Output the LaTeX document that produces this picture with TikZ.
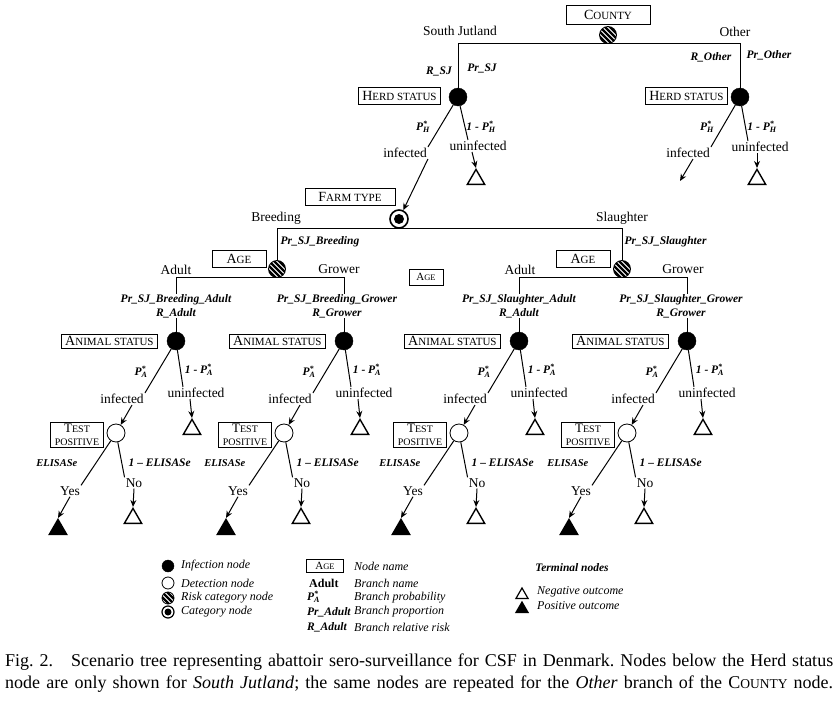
\documentclass[tikz,border=0pt]{standalone}
\usepackage{fontspec}
\setmainfont{Liberation Serif}
\usetikzlibrary{arrows.meta,shapes.geometric}
\newcommand{\nodecaps}[2]{#1{\fontsize{11}{12}\selectfont #2}}
\newcommand{\pstar}[1]{P\rlap{\textsuperscript{*}}\textsubscript{#1}}

\tikzset{
  base/.style={font=\fontsize{13.5}{15}\selectfont, inner sep=1pt},
  prob/.style={font=\fontsize{11.5}{14}\selectfont\bfseries\itshape, inner sep=0.5pt},
  legtext/.style={font=\fontsize{12}{14}\selectfont\itshape, inner sep=0pt, anchor=west},
  namebox/.style={draw, line width=0.8pt, inner xsep=4pt, inner ysep=1pt,
    minimum height=17pt, font=\fontsize{14}{14}\selectfont},
  infnode/.style={circle, draw, fill, minimum size=18pt, inner sep=0pt},
  detnode/.style={circle, draw, line width=0.8pt, fill=white, minimum size=18pt, inner sep=0pt},
  risknode/.style={circle, draw, line width=0.8pt, minimum size=17pt, inner sep=0pt,
    path picture={\foreach \k in {-15,-10,...,15}
      \draw[line width=2.2pt] ([xshift=\k pt]path picture bounding box.center)
        ++(-12pt,12pt) -- ++(24pt,-24pt);}},
  catnode/.style={circle, draw, line width=1.6pt, minimum size=18pt, inner sep=0pt,
    path picture={\fill (path picture bounding box.center) circle (#1);}},
  catnode/.default=5pt,
  negtri/.style={regular polygon, regular polygon sides=3, draw, line width=1.4pt,
    minimum size=20pt, inner sep=0pt},
  postri/.style={negtri, fill},
  branch/.style={line width=1pt},
  arr/.style={-{Stealth[length=7pt,width=6pt]}, line width=1pt},
}

\begin{document}
\begin{tikzpicture}[x=1pt,y=-1pt]
\useasboundingbox (0,0) rectangle (839,704);

% county and herd status
\node[namebox, minimum width=84pt, minimum height=19pt] (ctyname) at (608,15) {\nodecaps{C}{OUNTY}};
\node[risknode] (cty) at (608,35) {};
\node[base] (sjname) at (460,31) {South Jutland};
\node[base] (othname) at (735,32) {Other};
\node[prob] (rsj) at (439,71) {R\_SJ};
\node[prob] (prsj) at (482,68) {Pr\_SJ};
\node[prob] (rot) at (711,57) {R\_Other};
\node[prob] (prot) at (769,55) {Pr\_Other};
\node[infnode] (hsj) at (458,97) {};
\node[infnode] (hot) at (740,97) {};
\node[namebox, anchor=east] (hsjname) at (441,96) {\nodecaps{H}{ERD STATUS}};
\node[namebox, anchor=east] (hotname) at (728,96) {\nodecaps{H}{ERD STATUS}};
\draw[branch] (hsj) |- (cty.south) -| (hot);

\node[prob] (phsj) at (423,127) {\pstar{H}};
\node[prob] (qhsj) at (481,127) {1 - \pstar{H}};
\node[base] (infsj) at (405,153) {infected};
\node[base] (uninfsj) at (478,146) {uninfected};
\node[negtri, anchor=north] (tusj) at (476,168) {};
\node[prob] (phot) at (707,127) {\pstar{H}};
\node[prob] (qhot) at (762,127) {1 - \pstar{H}};
\node[base] (infot) at (688,153) {infected};
\node[base] (uninfot) at (760,147) {uninfected};
\node[negtri, anchor=north] (tuot) at (757,168) {};
\coordinate (otend) at (680,181);

% farm type
\node[catnode] (farm) at (399,219) {};
\node[namebox, minimum width=90pt] (farmname) at (350,197) {\nodecaps{F}{ARM TYPE}};
\draw[branch] (hsj) -- (infsj.north east);
\draw[arr] (infsj.south east) -- (farm);
\draw[branch] (hsj) -- ([xshift=-10pt]uninfsj.north);
\draw[arr] ([xshift=-6pt]uninfsj.south) -- (tusj.north);
\draw[branch] (hot) -- (infot.north east);
\draw[arr] ([xshift=5pt]infot.south) -- (otend);
\draw[branch] (hot) -- ([xshift=-12pt]uninfot.north);
\draw[arr] ([xshift=-3pt]uninfot.south) -- (tuot.north);

\node[base] (brname) at (276,218) {Breeding};
\node[base] (slname) at (622,218) {Slaughter};
\node[prob, anchor=west] (prbr) at (280,242) {Pr\_SJ\_Breeding};
\node[prob, anchor=west] (prsl) at (624,242) {Pr\_SJ\_Slaughter};
\node[risknode] (agebr) at (277,269) {};
\node[risknode] (agesl) at (622,269) {};
\node[namebox, minimum width=54pt] (agebrname) at (239,259) {\nodecaps{A}{GE}};
\node[namebox, minimum width=54pt] (ageslname) at (583,259) {\nodecaps{A}{GE}};
\node[namebox, minimum width=34pt, minimum height=16pt, font=\fontsize{11}{12}\selectfont]
  (agestray) at (426,277) {A{\fontsize{8.5}{10}\selectfont GE}};
\draw[branch] (agebr) |- (farm.south) -| (agesl);

% age branches
\node[base] (adbr) at (176,270) {Adult};
\node[base] (grbr) at (339,269) {Grower};
\node[base] (adsl) at (520,270) {Adult};
\node[base] (grsl) at (683,269) {Grower};
\node[prob, align=center] (lb1) at (176,306) {Pr\_SJ\_Breeding\_Adult\\R\_Adult};
\node[prob, align=center] (lb2) at (337,306) {Pr\_SJ\_Breeding\_Grower\\R\_Grower};
\node[prob, align=center] (lb3) at (519,306) {Pr\_SJ\_Slaughter\_Adult\\R\_Adult};
\node[prob, align=center] (lb4) at (681,306) {Pr\_SJ\_Slaughter\_Grower\\R\_Grower};

% animal status and test subtrees
\foreach \cx/\i in {176/1,344/2,519/3,687/4}{
  \node[infnode] (as\i) at (\cx,341) {};
  \node[namebox, anchor=east, minimum height=14pt] (asname\i) at (\cx-18,341) {\nodecaps{A}{NIMAL STATUS}};
  \node[prob] (pa\i) at (\cx-35,372) {\pstar{A}};
  \node[prob] (qa\i) at (\cx+23,370) {1 - \pstar{A}};
  \node[base] (inf\i) at (\cx-54,399) {infected};
  \node[base] (uninf\i) at (\cx+20,393) {uninfected};
  \node[negtri, anchor=north] (tu\i) at (\cx+16,418) {};
  \node[detnode] (tp\i) at (\cx-60,433) {};
  \node[namebox, align=center, minimum width=50pt, inner ysep=2pt,
    font=\fontsize{13}{13}\selectfont] (tpname\i) at (\cx-99,435)
    {T{\fontsize{10}{12}\selectfont EST}\\{\fontsize{10}{12}\selectfont POSITIVE}};
  \node[prob, anchor=east, font=\fontsize{10.5}{12}\selectfont\bfseries\itshape] (se\i) at (\cx-98,463) {ELISASe};
  \node[prob, anchor=west] (nse\i) at (\cx-48,463) {1 -- ELISASe};
  \node[base] (yes\i) at (\cx-106,491) {Yes};
  \node[base] (no\i) at (\cx-42,483) {No};
  \node[postri, anchor=north] (ty\i) at (\cx-118,518) {};
  \node[negtri, anchor=north] (tn\i) at (\cx-43,507) {};
  \draw[branch] (lb\i.south -| as\i) -- (as\i);
  \draw[branch] (as\i) -- (inf\i.north east);
  \draw[arr] ([xshift=10pt]inf\i.south) -- (tp\i);
  \draw[branch] (as\i) -- ([xshift=-13pt]uninf\i.north);
  \draw[arr] ([xshift=-6pt]uninf\i.south) -- (tu\i.north);
  \draw[branch] (tp\i) -- (yes\i.north east);
  \draw[arr] (yes\i.south) -- (ty\i.north);
  \draw[branch] (tp\i) -- (no\i.north west);
  \draw[arr] (no\i.south) -- (tn\i.north);
}
\draw[branch] (lb1.north -| as1) |- (agebr.south) -| (lb2.north -| as2);
\draw[branch] (lb3.north -| as3) |- (agesl.south) -| (lb4.north -| as4);

% legend
\node[infnode, minimum size=12pt] (lginf) at (168,566) {};
\node[detnode, minimum size=12pt] (lgdet) at (168,583) {};
\node[risknode, minimum size=12pt] (lgrisk) at (168,598) {};
\node[catnode=3.5pt, minimum size=12pt, line width=1.2pt] (lgcat) at (168,612) {};
\node[legtext] (lginft) at (181,566) {Infection node};
\node[legtext] (lgdett) at (181,583) {Detection node};
\node[legtext] (lgriskt) at (181,598) {Risk category node};
\node[legtext] (lgcatt) at (181,612) {Category node};
\node[namebox, minimum width=37pt, minimum height=13pt, font=\fontsize{11}{12}\selectfont]
  (lgage) at (325,566) {A{\fontsize{8.5}{10}\selectfont GE}};
\node[inner sep=0pt, anchor=west, font=\fontsize{12}{14}\selectfont\bfseries] (lgad) at (309,583) {Adult};
\node[prob, inner sep=0pt, anchor=west] (lgpa) at (307,597) {\pstar{A}};
\node[prob, inner sep=0pt, anchor=west] (lgpr) at (307,612) {Pr\_Adult};
\node[prob, inner sep=0pt, anchor=west] (lgr) at (307,627) {R\_Adult};
\node[legtext] (lgnn) at (354,566) {Node name};
\node[legtext] (lgbn) at (354,583) {Branch name};
\node[legtext] (lgbp) at (354,598) {Branch probability};
\node[legtext] (lgbpr) at (354,612) {Branch proportion};
\node[legtext] (lgbr) at (354,627) {Branch relative risk};
\node[prob] (lgterm) at (572,568) {Terminal nodes};
\node[negtri, minimum size=14pt, line width=1.2pt] (lgneg) at (522,595) {};
\node[postri, minimum size=14pt, line width=1.2pt] (lgpos) at (522,609) {};
\node[legtext] (lgnegt) at (537,592) {Negative outcome};
\node[legtext] (lgpost) at (537,606) {Positive outcome};

% caption
\node[anchor=north west, inner sep=0pt, text width=828pt, align=justify,
  font=\fontsize{18}{22}\selectfont] (caption) at (5,654)
  {\frenchspacing Fig.~2.\quad Scenario tree representing abattoir sero-surveillance for CSF in Denmark. Nodes below the Herd status\linebreak
   node are only shown for \textit{South Jutland}; the same nodes are repeated for the \textit{Other} branch of the C{\fontsize{13.5}{14}\selectfont OUNTY} node.\parfillskip=0pt\par};
\end{tikzpicture}
\end{document}
